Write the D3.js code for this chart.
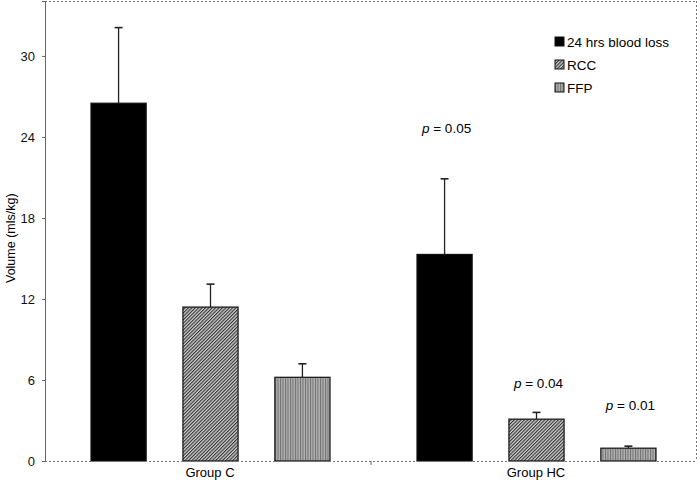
<!DOCTYPE html>
<html>
<head>
<meta charset="utf-8">
<script src="https://cdn.jsdelivr.net/npm/d3@7"></script>
<style>
  body { margin: 0; background: #fff; }
  text { font-family: "Liberation Sans", Arial, sans-serif; }
</style>
</head>
<body>
<svg id="chart"></svg>
<script>
// data
const groups = ["Group C", "Group HC"];
const series = ["24 hrs blood loss", "RCC", "FFP"];
const means = [
  [26.5, 11.4, 6.2],   // Group C
  [15.3, 3.1, 0.95]    // Group HC
];
const errTop = [
  [32.1, 13.1, 7.2],
  [20.9, 3.6, 1.1]
];
const pLabels = [null, ["0.05", "0.04", "0.01"]];
const pLabelY = [24.3, 5.4, 3.8];
const yTicks = [0, 6, 12, 18, 24, 30];

const width = 700, height = 489;
const m = { left: 45, right: 3, top: 1, bottom: 28 };

const svg = d3.select("#chart").attr("width", width).attr("height", height);

// patterns
const defs = svg.append("defs");
const hatch = defs.append("pattern")
  .attr("id", "hatch").attr("patternUnits", "userSpaceOnUse")
  .attr("width", 2.4).attr("height", 2.4)
  .attr("patternTransform", "rotate(45)");
hatch.append("rect").attr("width", 2.4).attr("height", 2.4).attr("fill", "#cfcfcf");
hatch.append("rect").attr("width", 1.1).attr("height", 2.4).attr("fill", "#333");

const vlines = defs.append("pattern")
  .attr("id", "vlines").attr("patternUnits", "userSpaceOnUse")
  .attr("width", 2.5).attr("height", 3);
vlines.append("rect").attr("width", 2.5).attr("height", 3).attr("fill", "#b0b0b0");
vlines.append("rect").attr("width", 1).attr("height", 3).attr("fill", "#707070");

const fills = ["#000", "url(#hatch)", "url(#vlines)"];

const x0 = d3.scaleBand().domain(groups)
  .range([m.left, width - m.right]);
const x1 = d3.scaleBand().domain(series)
  .range([46, 285]).paddingInner(0.4);
const y = d3.scaleLinear().domain([0, 34.07])
  .range([height - m.bottom, m.top]);

// frame (dotted top/right/bottom)
const dotted = { stroke: "#777", "stroke-width": 1, "stroke-dasharray": "2,2" };
function line(x1_, y1_, x2_, y2_, st) {
  const l = svg.append("line").attr("x1", x1_).attr("y1", y1_).attr("x2", x2_).attr("y2", y2_);
  Object.entries(st).forEach(([k, v]) => l.attr(k, v));
  return l;
}
line(m.left, y(34.07) + 0.5, width - m.right, y(34.07) + 0.5, dotted);
line(width - m.right - 0.5, m.top, width - m.right - 0.5, y(0), dotted);

// y axis
const yAxis = svg.append("g")
  .attr("transform", `translate(${m.left},0)`)
  .call(d3.axisLeft(y).tickValues(yTicks).tickSize(3).tickPadding(7));
yAxis.select(".domain").attr("stroke", "#666");
yAxis.selectAll(".tick line").attr("stroke", "#666");
yAxis.selectAll(".tick text").attr("font-size", 13).attr("fill", "#111");

svg.append("text")
  .attr("transform", `translate(15,${y(16.5)}) rotate(-90)`)
  .attr("text-anchor", "middle")
  .attr("font-size", 12.5)
  .text("Volume (mls/kg)");

// bars
groups.forEach((g, gi) => {
  const gx = x0(g);
  series.forEach((s, si) => {
    const bx = gx + x1(s);
    const bw = x1.bandwidth();
    const cx = bx + bw / 2;
    // error bar
    line(cx, y(means[gi][si]), cx, y(errTop[gi][si]), { stroke: "#222", "stroke-width": 1.3 });
    line(cx - 4, y(errTop[gi][si]), cx + 4, y(errTop[gi][si]), { stroke: "#222", "stroke-width": 1.6 });
    svg.append("rect")
      .attr("x", bx).attr("y", y(means[gi][si]))
      .attr("width", bw).attr("height", y(0) - y(means[gi][si]))
      .attr("fill", fills[si])
      .attr("stroke", "#111").attr("stroke-width", 1.2);
    if (pLabels[gi]) {
      const t = svg.append("text")
        .attr("x", cx + 2).attr("y", y(pLabelY[si]))
        .attr("text-anchor", "middle")
        .attr("font-size", 13.5);
      t.append("tspan").attr("font-style", "italic").text("p");
      t.append("tspan").text(" = " + pLabels[gi][si]);
    }
  });
  svg.append("text")
    .attr("x", gx + x0.bandwidth() / 2 + 2).attr("y", height - 12)
    .attr("text-anchor", "middle").attr("font-size", 13)
    .text(g);
});

// x axis (dotted)
line(m.left, y(0) + 0.5, width - m.right, y(0) + 0.5, dotted);
line(x0("Group HC"), y(0), x0("Group HC"), y(0) + 4, { stroke: "#666", "stroke-width": 1 });

// legend
const legend = svg.append("g").attr("transform", "translate(555,37)");
series.forEach((s, i) => {
  const row = legend.append("g").attr("transform", `translate(0,${i * 23})`);
  row.append("rect").attr("width", 9).attr("height", 9)
    .attr("fill", fills[i]).attr("stroke", "#111").attr("stroke-width", 1);
  row.append("text").attr("x", 12).attr("y", 9.5).attr("font-size", 13.5).text(s);
});
</script>
</body>
</html>
